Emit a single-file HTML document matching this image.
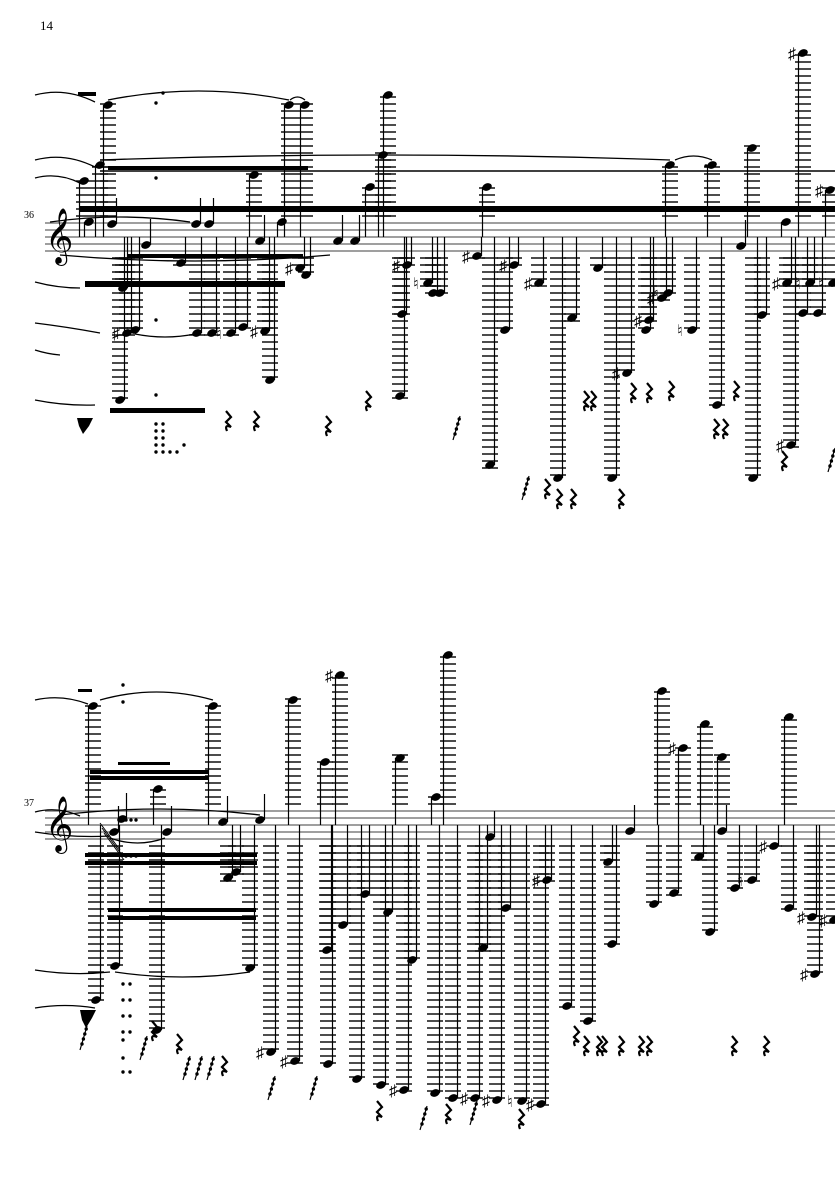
<!DOCTYPE html>
<html><head><meta charset="utf-8"><style>
html,body{margin:0;padding:0;background:#fff;width:835px;height:1181px;overflow:hidden}
svg{display:block}
text{font-family:"Liberation Serif",serif}
</style></head><body>
<svg id="s" width="835" height="1181" viewBox="0 0 835 1181" xmlns="http://www.w3.org/2000/svg">
<text x="40" y="30" font-size="13">14</text>
<text x="24" y="218" font-size="10">36</text>
<text x="24" y="806" font-size="10">37</text>
<g id="g"></g>
</svg>
<script>
var g=document.getElementById('g'),h='';
function L(x1,y1,x2,y2,w,c){h+='<line x1="'+x1+'" y1="'+y1+'" x2="'+x2+'" y2="'+y2+'" stroke="'+(c||'#000')+'" stroke-width="'+(w||1)+'"/>';}
function R(x,y,w,hh){h+='<rect x="'+x+'" y="'+y+'" width="'+w+'" height="'+hh+'"/>';}
function staff(T){for(var i=0;i<5;i++)L(45,T+i*7,835,T+i*7,1.3,'#666');
 h+='<text x="45" y="'+(T+29)+'" font-size="48" font-family="DejaVu Sans">𝄞</text>';}
function acc(x,y,a){var c=a=='s'?'♯':'♮';h+='<text x="'+(x-15)+'" y="'+(y+6)+'" font-size="16" font-family="DejaVu Sans">'+c+'</text>';}
function n(T,x,y,a,se){
 var B=T+28;
 if(y<T){for(var ly=T-7;ly>=y-3;ly-=7)L(x-8,ly,x+8,ly,1.4);}
 if(y>B){for(var ly=B+7;ly<=y+3;ly+=7)L(x-8,ly,x+8,ly,1.4);}
 h+='<ellipse cx="'+x+'" cy="'+y+'" rx="5" ry="3.6" transform="rotate(-22 '+x+' '+y+')"/>';
 var sx,e;
 if(y<T){sx=x-4.5;e=se||T+14;}else if(y>B){sx=x+4.5;e=se||T+14;}else{sx=x+4.5;e=se||y-26;}
 L(sx,y,sx,e,1.2);
 if(a)acc(x,y,a);
}
function rest(x,y){h+='<path d="M'+(x-1)+' '+(y-9)+' l5 6 l-5 5 l5 5 q-7 -3 -4 4" fill="none" stroke="#000" stroke-width="2.2"/>';}
function grace(x,y){L(x+7,y-14,x,y+10,1.2);for(var i=0;i<4;i++)h+='<circle cx="'+(x+2+i*1.4)+'" cy="'+(y+4-i*5)+'" r="1.7"/>';}
function slur(x1,y1,x2,y2,d){h+='<path d="M'+x1+' '+y1+' Q'+((x1+x2)/2)+' '+(Math.min(y1,y2)+d)+' '+x2+' '+y2+'" fill="none" stroke="#000" stroke-width="1.3"/>';}
function dot(x,y){h+='<circle cx="'+x+'" cy="'+y+'" r="1.7"/>';}

/* ---------- SYSTEM 1 ---------- */
var T=223;staff(T);
R(78,92,18,4);
R(80,206,755,6);L(100,171,835,171,1.5);
R(108,166,200,4);R(128,254,175,4);R(85,281,200,6);R(110,408,95,5);
slur(108,100,289,100,-18);slur(290,100,305,100,-6);slur(100,160,670,160,-10);slur(35,95,95,102,-8);slur(35,160,95,167,-8);slur(35,178,80,183,-6);
slur(50,222,190,222,-10);slur(60,255,330,255,12);slur(35,282,80,288,6);slur(35,323,100,333,4);slur(35,350,60,355,4);slur(35,400,95,405,6);slur(135,334,195,334,6);
slur(675,160,712,160,-8);
var s1=[[108,105],[100,165],[84,181],[289,105],[305,105],[254,175],[388,95],[383,155],[370,187],
[89,222],[112,224],[146,245],[196,224],[209,224],[260,241],[282,222],[338,241],[355,241],
[181,263],[123,288],[135,330],[127,333,'s'],[197,333],[212,333],[231,333,'n'],[243,327],[265,331,'s'],[270,380],[120,400],
[300,268,'s'],[306,275],[407,265,'s'],[402,314],[400,396],[428,283,'n'],[433,293],[440,293],
[477,256,'s'],[487,187],[514,265,'s'],[490,465],[505,330],[539,283,'s'],[558,478],[572,318],[598,268],[612,478],
[627,373,'s'],[649,320,'s'],[646,330],[668,293,'n'],[662,298,'s'],[692,330,'n'],[717,405],
[670,165],[712,165],[752,148],[741,246],[753,478],[762,315],[786,222],[787,283,'s'],[791,445,'s'],[803,53,'s'],
[810,283,'n'],[803,313],[818,313],[833,283,'n'],[830,190,'s']];
s1.forEach(function(p){n(T,p[0],p[1],p[2]);});
[[227,420],[255,420],[327,425],[367,400],[585,400],[592,400],[632,392],[648,392],[670,390],[735,390],[715,428],[724,428],[546,488],[558,498],[572,498],[620,498],[783,460]].forEach(function(p){rest(p[0],p[1]);});
[[453,430],[522,490],[828,462]].forEach(function(p){grace(p[0],p[1]);});
for(var i=0;i<5;i++){dot(156,424+i*7);dot(163,424+i*7);}dot(170,452);dot(177,452);dot(184,445);
dot(156,103);dot(163,93);dot(156,178);dot(156,320);dot(156,395);dot(706,166);
h+='<path d="M77 418 h16 l-4 8 l-6 8 l-4 -8z"/>';

/* ---------- SYSTEM 2 ---------- */
T=811;staff(T);
R(78,689,14,3);
R(90,770,118,4);R(90,776,118,4);R(118,762,52,3);R(85,853,172,4);R(85,861,172,4);R(108,908,148,4);R(108,916,148,4);
slur(100,700,213,700,-16);slur(35,700,88,704,-6);slur(60,815,260,815,-12);slur(35,812,80,816,-6);slur(35,832,110,836,6);
slur(110,838,165,838,10);slur(35,970,110,972,6);slur(115,972,250,972,10);slur(35,1008,95,1008,-5);
var s2=[[93,706],[213,706],[122,819],[115,966],[96,1000],[114,832],[167,832],[158,789],[223,822],[260,820],
[250,968],[236,872],[228,878],[157,1030],[271,1052,'s'],[295,1061,'s'],[327,950],[293,700],[340,675,'s'],[325,762],
[328,1064],[343,925],[357,1079],[365,894],[381,1085],[388,912],[404,1090,'s'],[412,960],[400,758],[435,1093],[436,797],
[448,655],[453,1098],[475,1098,'s'],[497,1100,'s'],[522,1101,'n'],[541,1104,'s'],[490,837],[483,948],[506,908],
[547,880,'s'],[567,1006],[588,1021],[608,862],[612,944],[630,831],[662,691],[654,904],[674,893],
[683,748,'s'],[705,724],[699,857],[710,932],[722,757],[722,831],[735,888],[752,880,'n'],[774,846,'s'],[789,717],
[789,908],[812,917,'s'],[815,974,'s'],[834,920,'s']];
s2.forEach(function(p){n(T,p[0],p[1],p[2]);});
[[153,1030],[178,1043],[223,1065],[378,1110],[447,1113],[520,1118],[575,1035],[585,1045],[598,1045],[603,1045],[620,1045],[640,1045],[648,1045],[733,1045],[765,1045]].forEach(function(p){rest(p[0],p[1]);});
[[80,1040],[140,1050],[183,1070],[195,1070],[207,1070],[268,1090],[310,1090],[420,1120],[470,1115]].forEach(function(p){grace(p[0],p[1]);});
for(var i=0;i<4;i++){dot(123,984+i*16);dot(130,984+i*16);}dot(123,1040);dot(123,1058);dot(123,1072);dot(130,1072);
dot(123,685);dot(123,702);dot(126,820);dot(131,820);dot(136,820);dot(126,856);dot(131,856);dot(136,856);
h+='<path d="M80 1010 h16 l-4 8 l-6 10 l-4 -8z"/>';
L(100,823,120,850,1);L(102,828,122,855,1);L(104,833,124,860,1);
g.innerHTML=h;
</script>
</body></html>
